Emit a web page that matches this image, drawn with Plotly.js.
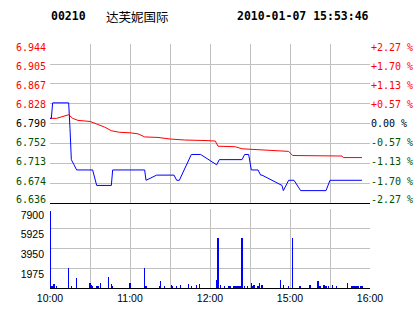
<!DOCTYPE html>
<html><head><meta charset="utf-8">
<script src="https://cdn.plot.ly/plotly-3.0.1.min.js"></script>
<style>html,body{margin:0;padding:0;background:#fff}#chart{width:414px;height:314px}</style>
</head><body><div id="chart"></div>
<script>
const stockCode = "00210";
const stockName = "达芙妮国际";
const stamp = "2010-01-07 15:53:46";
const day = "2010-01-07";
const prevClose = 6.790;

const priceTicks = [6.636, 6.674, 6.713, 6.752, 6.790, 6.828, 6.867, 6.905, 6.944];
const priceTickLabels = ["6.636","6.674","6.713","6.752","6.790","6.828","6.867","6.905","6.944"];
const pctTickLabels = ["-2.27 %","-1.70 %","-1.13 %","-0.57 %","0.00 %","+0.57 %","+1.13 %","+1.70 %","+2.27 %"];
const volTicks = [1975, 3950, 5925, 7900];
const volTickLabels = ["1975","3950","5925","7900"];
const timeTicks = ["10:00","10:30","11:00","11:30","12:00","14:30","15:00","15:30","16:00"];
const timeTickLabels = ["10:00","","11:00","","12:00","","15:00","","16:00"];

const priceTimes = ["10:00","10:01","10:02","10:14","10:15","10:16","10:18","10:20","10:32","10:35","10:46","10:47","11:11","11:12","11:20","11:33","11:35","11:37","11:46","11:53","12:05","12:07","12:24","12:26","12:29","14:31","14:36","14:38","14:39","14:54","14:55","14:59","15:03","15:08","15:27","15:30","15:54"];
const prices =     [6.80,  6.80,   6.83,   6.83,   6.78,   6.72,   6.71,   6.70,   6.70,   6.67,   6.67,   6.70,   6.70,   6.68,   6.69,   6.69,   6.68,   6.68,   6.73,   6.73,   6.71,   6.72,   6.72,   6.73,   6.73,   6.70,   6.70,   6.69,   6.69,   6.67,   6.66,   6.68,   6.68,   6.66,   6.66,   6.68,   6.68];

const avgTimes = ["10:00","10:05","10:14","10:17","10:21","10:30","10:35","10:41","10:46","10:52","11:00","11:06","11:11","11:21","11:30","11:41","11:57","12:04","12:06","12:19","12:24","14:36","14:41","14:59","15:02","15:39","15:40","15:54"];
const avgPrices = [6.800, 6.800, 6.807, 6.800, 6.796, 6.794, 6.789, 6.783, 6.776, 6.773, 6.772, 6.770, 6.764, 6.763, 6.760, 6.758, 6.757, 6.756, 6.746, 6.745, 6.741, 6.739, 6.738, 6.736, 6.728, 6.727, 6.724, 6.724];

const volTimes = ["10:00","10:01","10:02","10:03","10:05","10:14","10:16","10:20","10:30","10:31","10:32","10:35","10:36","10:38","10:44","10:46","10:47","11:00","11:11","11:12","11:22","11:23","11:26","11:31","11:32","11:35","11:38","11:44","11:46","11:50","11:52","12:05","12:06","12:08","12:11","12:14","12:15","12:18","12:19","12:20","12:21","12:22","12:23","12:24","12:26","12:28","14:31","14:32","14:33","14:36","14:37","14:39","14:53","14:55","14:59","15:02","15:07","15:08","15:15","15:21","15:22","15:23","15:25","15:26","15:27","15:29","15:32","15:35","15:43","15:46","15:47","15:48","15:49","15:50","15:51","15:53","15:54"];
const volumes =  [7750,  200,    200,    400,    200,    2050,   200,    1000,   500,    300,    200,    200,    200,    500,    1100,   400,    200,    500,    2050,   200,    200,    700,    200,    300,    200,    200,    300,    400,    200,    300,    400,    800,    5000,   300,    200,    200,    200,    200,    200,    200,    200,    200,    200,    5000,   200,    200,    500,    200,    300,    200,    500,    300,    800,    300,    200,    5000,   200,    200,    300,    700,    200,    200,    300,    300,    200,    200,    300,    200,    500,    200,    200,    200,    200,    200,    200,    200,    200];

const RED = "#ff0000", GREEN = "#005000", BLACK = "#000000", GRID = "#c0c0c0";
const ts = t => day + " " + t;
const colorFor = v => Math.abs(v - prevClose) < 1e-6 ? BLACK : (v > prevClose ? RED : GREEN);
const span = (txt, c) => '<span style="color:' + c + '">' + txt + '</span>';

const rb = [{bounds: [ts("12:30"), ts("14:30")]}];
const xRange = [ts("10:00"), ts("16:00")];
const pLo = priceTicks[0], pHi = priceTicks[priceTicks.length - 1];
const padLbl = 0.0062;  // labels sit slightly inside the grid band
const lblRange = [pLo - padLbl, pHi + padLbl];

const traces = [
  {x: avgTimes.map(ts), y: avgPrices, type: "scatter", mode: "lines", line: {color: RED, width: 1}, xaxis: "x", yaxis: "y", hoverinfo: "skip"},
  {x: priceTimes.map(ts), y: prices, type: "scatter", mode: "lines", line: {color: "#0000ff", width: 1}, xaxis: "x", yaxis: "y", hoverinfo: "skip"},
  {x: volTimes.map(ts), y: volumes, type: "bar", width: 50000, marker: {color: "#0000ff", line: {width: 0}}, xaxis: "x2", yaxis: "y2", hoverinfo: "skip"},
  {x: [ts("10:00")], y: [prevClose], type: "scatter", mode: "none", xaxis: "x", yaxis: "y3", hoverinfo: "skip"},
  {x: [ts("10:00")], y: [prevClose], type: "scatter", mode: "none", xaxis: "x", yaxis: "y4", hoverinfo: "skip"}
];

const axX = {
  type: "date", range: xRange, rangebreaks: rb, tickmode: "array",
  tickvals: timeTicks.map(ts), ticktext: timeTickLabels, ticks: "",
  showgrid: true, gridcolor: GRID, gridwidth: 1, zeroline: false,
  showline: true, linecolor: BLACK, linewidth: 1, fixedrange: true
};
const lblFont = {family: "DejaVu Sans Mono", size: 10, color: BLACK};

const layout = {
  width: 414, height: 314,
  margin: {l: 50, r: 44, t: 44, b: 26, pad: 0},
  paper_bgcolor: "#ffffff", plot_bgcolor: "#ffffff",
  showlegend: false, hovermode: false, bargap: 0,
  xaxis: Object.assign({}, axX, {anchor: "y", showticklabels: false}),
  xaxis2: Object.assign({}, axX, {anchor: "y2", showticklabels: true,
    tickfont: {family: "Liberation Sans", size: 10.5, color: BLACK}}),
  yaxis: {
    domain: [85/244, 1], range: [pLo, pHi],
    tickmode: "array", tickvals: priceTicks, showticklabels: false,
    ticks: "", showgrid: true, gridcolor: GRID, zeroline: false, showline: false,
    anchor: "x", fixedrange: true
  },
  yaxis3: {
    overlaying: "y", side: "left", anchor: "x", range: lblRange,
    tickmode: "array", tickvals: priceTicks,
    ticktext: priceTickLabels.map((l, i) => span(l, colorFor(priceTicks[i]))),
    ticks: "", showgrid: false, zeroline: false, showline: false,
    tickfont: lblFont, fixedrange: true, ticklabelstandoff: 3
  },
  yaxis4: {
    overlaying: "y", side: "right", anchor: "x", range: lblRange,
    tickmode: "array", tickvals: priceTicks,
    ticktext: pctTickLabels.map((l, i) => span(l, colorFor(priceTicks[i]))),
    ticks: "", showgrid: false, zeroline: false, showline: false,
    tickfont: lblFont, fixedrange: true, ticklabelstandoff: 0
  },
  yaxis2: {
    domain: [0, 79/244], range: [0, volTicks[volTicks.length-1]],
    tickmode: "array", tickvals: volTicks, ticktext: volTickLabels,
    ticks: "", showgrid: true, gridcolor: GRID, zeroline: false, showline: false,
    tickfont: {family: "Liberation Sans", size: 10.5, color: BLACK}, anchor: "x2", fixedrange: true,
    ticklabelstandoff: 5, ticklabelshift: 6
  },
  shapes: [{type: "line", xref: "paper", x0: 0, x1: 1, yref: "y", y0: prevClose, y1: prevClose,
            line: {color: BLACK, width: 1}, layer: "between"}],
  annotations: [
    {xref: "paper", yref: "paper", x: 0, y: (288-16)/244, xanchor: "left", yanchor: "middle",
     text: "<b>" + stockCode + "</b>", showarrow: false, borderpad: 0,
     font: {family: "DejaVu Sans Mono", size: 11.5, color: BLACK}},
    {xref: "paper", yref: "paper", x: 55/320, y: (288-16)/244, xanchor: "left", yanchor: "middle",
     text: stockName, showarrow: false, borderpad: 0,
     font: {family: "Noto Sans CJK SC", size: 12.5, color: BLACK}},
    {xref: "paper", yref: "paper", x: 1, y: (288-16)/244, xanchor: "right", yanchor: "middle",
     text: "<b>" + stamp + "</b>", showarrow: false, borderpad: 0,
     font: {family: "DejaVu Sans Mono", size: 11.5, color: BLACK}}
  ]
};

Plotly.newPlot("chart", traces, layout, {staticPlot: true, displayModeBar: false});
</script>
</body></html>
